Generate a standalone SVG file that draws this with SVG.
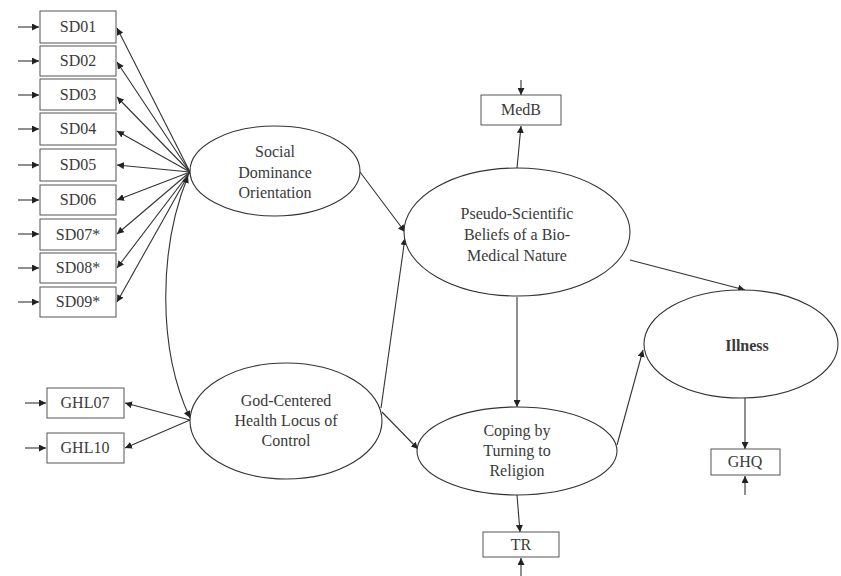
<svg xmlns="http://www.w3.org/2000/svg" width="841" height="576" viewBox="0 0 841 576">
<style>
.box{fill:#fff;stroke:#555;stroke-width:1}
.ell{fill:#fff;stroke:#333;stroke-width:1.1}
.t{font-family:'Liberation Serif',serif;font-size:16px;fill:#3a3a3a;text-anchor:middle}
.c{fill:none;stroke:#333;stroke-width:1.1;marker-end:url(#ah)}
.cc{fill:none;stroke:#333;stroke-width:1.1;marker-end:url(#ah);marker-start:url(#as)}
</style>
<defs>
<marker id="ah" viewBox="0 0 10 10" refX="10" refY="5" markerWidth="7" markerHeight="7" markerUnits="userSpaceOnUse" orient="auto"><path d="M0,0L10,5L0,10z" fill="#222"/></marker>
<marker id="as" viewBox="0 0 10 10" refX="0" refY="5" markerWidth="7" markerHeight="7" markerUnits="userSpaceOnUse" orient="auto"><path d="M10,0L0,5L10,10z" fill="#222"/></marker>
</defs>
<g id="connectors">
<path class="c" d="M18,27H39"/><path class="c" d="M18,61H39"/><path class="c" d="M18,95H39"/><path class="c" d="M18,129H39"/><path class="c" d="M18,165H39"/><path class="c" d="M18,200H39"/><path class="c" d="M18,234H39"/><path class="c" d="M18,268H39"/><path class="c" d="M18,302H39"/>
<path class="c" d="M190,172L117,28"/><path class="c" d="M190,172L117,62"/><path class="c" d="M190,172L117,97"/><path class="c" d="M190,172L117,131"/><path class="c" d="M190,172L117,165"/><path class="c" d="M190,172L117,200"/><path class="c" d="M190,172L117,234"/><path class="c" d="M190,172L117,268"/><path class="c" d="M190,172L117,302"/>
<path class="cc" d="M188,176C158,250 158,350 190,418"/>
<path class="c" d="M25,403H46"/><path class="c" d="M25,448H46"/>
<path class="c" d="M190,420L125,403"/><path class="c" d="M190,420L125,448"/>
<path class="c" d="M360,172L405,232"/>
<path class="c" d="M381,408L405,238"/>
<path class="c" d="M382,412L418,449"/>
<path class="c" d="M517,168L521,126"/>
<path class="c" d="M521,80V95"/>
<path class="c" d="M517,297V407"/>
<path class="c" d="M630,260L745,290"/>
<path class="c" d="M617,445L643,350"/>
<path class="c" d="M517,495L520,532"/>
<path class="c" d="M521,576V558"/>
<path class="c" d="M745,398V449"/>
<path class="c" d="M745,495V476"/>
</g>
<g id="SD01"><rect class="box" x="40" y="11" width="76" height="32"/><text class="t" x="78" y="32">SD01</text></g>
<g id="SD02"><rect class="box" x="40" y="46" width="76" height="30"/><text class="t" x="78" y="66">SD02</text></g>
<g id="SD03"><rect class="box" x="40" y="79" width="76" height="31"/><text class="t" x="78" y="100">SD03</text></g>
<g id="SD04"><rect class="box" x="40" y="113" width="76" height="32"/><text class="t" x="78" y="134">SD04</text></g>
<g id="SD05"><rect class="box" x="40" y="149" width="76" height="32"/><text class="t" x="78" y="170">SD05</text></g>
<g id="SD06"><rect class="box" x="40" y="185" width="76" height="30"/><text class="t" x="78" y="205">SD06</text></g>
<g id="SD07"><rect class="box" x="40" y="219" width="76" height="31"/><text class="t" x="78" y="240">SD07*</text></g>
<g id="SD08"><rect class="box" x="40" y="253" width="76" height="30"/><text class="t" x="78" y="273">SD08*</text></g>
<g id="SD09"><rect class="box" x="40" y="287" width="76" height="30"/><text class="t" x="78" y="307">SD09*</text></g>
<g id="GHL07"><rect class="box" x="47" y="388" width="77" height="30"/><text class="t" x="85" y="408">GHL07</text></g>
<g id="GHL10"><rect class="box" x="47" y="433" width="77" height="30"/><text class="t" x="85" y="453">GHL10</text></g>
<g id="MedB"><rect class="box" x="481" y="95" width="80" height="30"/><text class="t" x="521" y="115">MedB</text></g>
<g id="TR"><rect class="box" x="483" y="532" width="76" height="25"/><text class="t" x="521" y="550">TR</text></g>
<g id="GHQ"><rect class="box" x="711" y="449" width="69" height="26"/><text class="t" x="745" y="467">GHQ</text></g>
<g id="SDO"><ellipse class="ell" cx="275" cy="171" rx="85" ry="45"/><text class="t" x="275" y="157">Social</text><text class="t" x="275" y="178">Dominance</text><text class="t" x="275" y="198">Orientation</text></g>
<g id="GHL"><ellipse class="ell" cx="286" cy="421" rx="96" ry="58"/><text class="t" x="286" y="406">God-Centered</text><text class="t" x="286" y="426">Health Locus of</text><text class="t" x="286" y="446">Control</text></g>
<g id="PSB"><ellipse class="ell" cx="517" cy="232" rx="113" ry="64"/><text class="t" x="517" y="219">Pseudo-Scientific</text><text class="t" x="517" y="240">Beliefs of a Bio-</text><text class="t" x="517" y="261">Medical Nature</text></g>
<g id="Coping"><ellipse class="ell" cx="517" cy="451" rx="100" ry="44"/><text class="t" x="517" y="436">Coping by</text><text class="t" x="517" y="456">Turning to</text><text class="t" x="517" y="476">Religion</text></g>
<g id="Illness"><ellipse class="ell" cx="741" cy="344" rx="97" ry="54"/><text class="t" x="747" y="351" font-weight="bold">Illness</text></g>
</svg>
